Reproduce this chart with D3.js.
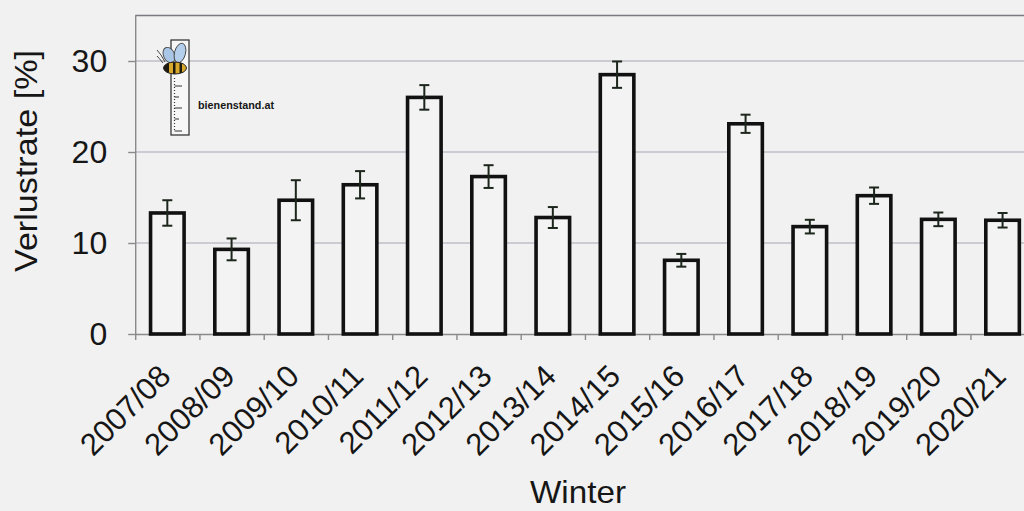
<!DOCTYPE html>
<html>
<head>
<meta charset="utf-8">
<script src="https://cdn.jsdelivr.net/npm/d3@7"></script>
<style>
  html, body { margin: 0; padding: 0; background: #f1f1f1; }
  svg { display: block; }
  text { font-family: "Liberation Sans", Arial, Helvetica, sans-serif; fill: #161616; }
</style>
</head>
<body>
<svg id="chart" width="1024" height="511"></svg>
<script>
// Winter colony loss rates (%) with their confidence margins
const categories = ["2007/08", "2008/09", "2009/10", "2010/11", "2011/12", "2012/13", "2013/14",
                    "2014/15", "2015/16", "2016/17", "2017/18", "2018/19", "2019/20", "2020/21"];
const lossRate = [13.3, 9.3, 14.7, 16.4, 26.0, 17.3, 12.8, 28.5, 8.1, 23.1, 11.8, 15.2, 12.6, 12.5];
const errorMargin = [1.4, 1.2, 2.2, 1.5, 1.35, 1.25, 1.15, 1.45, 0.7, 1.0, 0.75, 0.9, 0.75, 0.8];
const yTicks = [0, 10, 20, 30];
const yMax = 35;

const svg = d3.select("#chart");
const W = 1024, H = 511;
const plot = { left: 135.2, right: 1034.7, top: 15.5, bottom: 334 };

svg.append("rect").attr("width", W).attr("height", H).attr("fill", "#f1f1f1");

const x = d3.scaleBand()
  .domain(categories)
  .range([plot.left, plot.right])
  .paddingInner(0.478)
  .paddingOuter(0.239);

const y = d3.scaleLinear().domain([0, yMax]).range([plot.bottom, plot.top]);

// horizontal gridlines
svg.append("g")
  .selectAll("line")
  .data(yTicks.filter(t => t > 0))
  .join("line")
  .attr("x1", plot.left).attr("x2", plot.right)
  .attr("y1", d => y(d)).attr("y2", d => y(d))
  .attr("stroke", "#a6a6b3").attr("stroke-width", 1.2);

// top frame line
svg.append("line")
  .attr("x1", plot.left).attr("x2", plot.right)
  .attr("y1", y(yMax)).attr("y2", y(yMax))
  .attr("stroke", "#7a7a80").attr("stroke-width", 1.6);

// y axis
const yAxis = svg.append("g")
  .attr("transform", `translate(${plot.left},0)`)
  .call(d3.axisLeft(y).tickValues(yTicks).tickSize(7).tickSizeOuter(0).tickPadding(21));
yAxis.select(".domain").attr("stroke", "#8a8a8a").attr("stroke-width", 1.4);
yAxis.selectAll(".tick line").attr("stroke", "#8a8a8a").attr("stroke-width", 1.4);
yAxis.selectAll(".tick text")
  .attr("font-size", 32)
  .attr("font-family", "Liberation Sans, Arial, sans-serif")
  .attr("fill", "#161616");

// x axis: tick marks on the category boundaries
const xEdge = d3.scaleLinear().domain([0, categories.length]).range([plot.left, plot.right]);
const xTickAxis = svg.append("g")
  .attr("transform", `translate(0,${plot.bottom})`)
  .call(d3.axisBottom(xEdge).tickValues(d3.range(0, categories.length + 1)).tickSize(6).tickSizeOuter(0).tickFormat(""));
xTickAxis.select(".domain").attr("stroke", "#8a8a8a").attr("stroke-width", 1.4);
xTickAxis.selectAll(".tick line").attr("stroke", "#8a8a8a").attr("stroke-width", 1.4);

// x axis: rotated category labels
const xLabelAxis = svg.append("g")
  .attr("transform", `translate(0,${plot.bottom})`)
  .call(d3.axisBottom(x).tickSize(0));
xLabelAxis.select(".domain").remove();
xLabelAxis.selectAll(".tick text")
  .attr("font-size", 31)
  .attr("font-family", "Liberation Sans, Arial, sans-serif")
  .attr("fill", "#161616")
  .attr("text-anchor", "end")
  .attr("x", 0).attr("y", 0).attr("dy", 0)
  .attr("transform", "translate(5,44) rotate(-45)");

// bars
svg.append("g")
  .selectAll("rect")
  .data(categories)
  .join("rect")
  .attr("x", d => x(d))
  .attr("width", x.bandwidth())
  .attr("y", (d, i) => y(lossRate[i]))
  .attr("height", (d, i) => y(0) - y(lossRate[i]))
  .attr("fill", "#f3f3f3")
  .attr("stroke", "#111")
  .attr("stroke-width", 3.6);

// error bars
const err = svg.append("g").attr("stroke", "#1c261c").attr("stroke-width", 2);
categories.forEach((c, i) => {
  const cx = x(c) + x.bandwidth() / 2;
  const lo = y(lossRate[i] - errorMargin[i]);
  const hi = y(lossRate[i] + errorMargin[i]);
  err.append("line").attr("x1", cx).attr("x2", cx).attr("y1", lo).attr("y2", hi);
  err.append("line").attr("x1", cx - 5).attr("x2", cx + 5).attr("y1", lo).attr("y2", lo);
  err.append("line").attr("x1", cx - 5).attr("x2", cx + 5).attr("y1", hi).attr("y2", hi);
});

// axis titles
svg.append("text")
  .attr("transform", "translate(37,161) rotate(-90)")
  .attr("text-anchor", "middle")
  .attr("font-size", 32)
  .attr("textLength", 222).attr("lengthAdjust", "spacingAndGlyphs")
  .text("Verlustrate [%]");

svg.append("text")
  .attr("x", 578).attr("y", 503)
  .attr("text-anchor", "middle")
  .attr("font-size", 32)
  .attr("textLength", 96).attr("lengthAdjust", "spacingAndGlyphs")
  .text("Winter");

// bienenstand.at logo: ruler with a bee on top
const logo = svg.append("g");
logo.append("rect")
  .attr("x", 171).attr("y", 40).attr("width", 18).attr("height", 95)
  .attr("fill", "#f7f7f7").attr("stroke", "#3a3a3a").attr("stroke-width", 1.3);
logo.append("line")
  .attr("x1", 174.5).attr("x2", 174.5).attr("y1", 78).attr("y2", 132)
  .attr("stroke", "#333").attr("stroke-width", 1.2).attr("stroke-dasharray", "1,2");
[86, 97, 108, 119, 131].forEach((ty, k) => {
  logo.append("line")
    .attr("x1", 174.5).attr("x2", k % 2 ? 179 : 182)
    .attr("y1", ty).attr("y2", ty)
    .attr("stroke", "#333").attr("stroke-width", 1);
});
// wings
logo.append("ellipse")
  .attr("cx", 169).attr("cy", 55).attr("rx", 5.5).attr("ry", 8)
  .attr("transform", "rotate(-25,169,55)")
  .attr("fill", "#a9c6e6").attr("stroke", "#444").attr("stroke-width", 0.9);
logo.append("ellipse")
  .attr("cx", 180).attr("cy", 53).attr("rx", 5.5).attr("ry", 10)
  .attr("transform", "rotate(15,180,53)")
  .attr("fill", "#b3cfeb").attr("stroke", "#444").attr("stroke-width", 0.9);
// body
const clipId = "beeBody";
svg.append("defs").append("clipPath").attr("id", clipId)
  .append("ellipse").attr("cx", 175).attr("cy", 68).attr("rx", 11.5).attr("ry", 6);
logo.append("ellipse")
  .attr("cx", 175).attr("cy", 68).attr("rx", 11.5).attr("ry", 6)
  .attr("fill", "#d8a82a");
const stripes = logo.append("g").attr("clip-path", `url(#${clipId})`);
[[163, 6], [173, 2.5], [179.5, 2.5]].forEach(([sx, sw]) => {
  stripes.append("rect").attr("x", sx).attr("y", 60).attr("width", sw).attr("height", 16).attr("fill", "#1e1a10");
});
logo.append("ellipse")
  .attr("cx", 175).attr("cy", 68).attr("rx", 11.5).attr("ry", 6)
  .attr("fill", "none").attr("stroke", "#222").attr("stroke-width", 1);
// antennae
logo.append("path")
  .attr("d", "M165,62 Q161,54 157,50 M163,63 Q159,58 157,56")
  .attr("fill", "none").attr("stroke", "#333").attr("stroke-width", 0.9);

logo.append("text")
  .attr("x", 198).attr("y", 108.5)
  .attr("font-size", 11).attr("font-weight", "bold")
  .attr("textLength", 76).attr("lengthAdjust", "spacingAndGlyphs")
  .attr("fill", "#333")
  .text("bienenstand.at");
</script>
</body>
</html>
